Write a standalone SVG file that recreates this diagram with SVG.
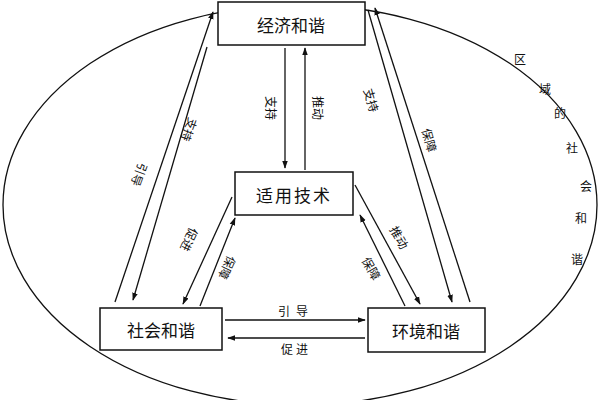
<svg xmlns="http://www.w3.org/2000/svg" width="600" height="400" viewBox="0 0 600 400">
<style>
.b{fill:#fff;stroke:#111;stroke-width:1.5}
.t{font-family:"Noto Sans CJK SC",sans-serif;font-size:17px;fill:#111;text-anchor:middle;dominant-baseline:central}
.s{font-family:"Noto Sans CJK SC",sans-serif;font-size:12px;fill:#111;text-anchor:middle;dominant-baseline:central}
.l{stroke:#111;stroke-width:1.3;fill:none;marker-end:url(#a)}
</style>
<defs><marker id="a" viewBox="0 0 10 10" refX="9" refY="5" markerWidth="8" markerHeight="8" orient="auto" markerUnits="userSpaceOnUse"><path d="M0,1.5L10,5L0,8.5z" fill="#111"/></marker></defs>
<ellipse cx="300" cy="205" rx="297" ry="200" fill="none" stroke="#111" stroke-width="1.3"/>
<g id="connectors">
<path class="l" d="M115,302L213,12"/>
<path class="l" d="M207,47L133,300"/>
<path class="l" d="M285,48L285,168"/>
<path class="l" d="M305,170L305,48"/>
<path class="l" d="M232,197L183,304"/>
<path class="l" d="M200,306L235,218"/>
<path class="l" d="M355,185L420,304"/>
<path class="l" d="M405,306L360,215"/>
<path class="l" d="M368,10L452,302"/>
<path class="l" d="M470,302L375,8"/>
<path class="l" d="M225,320L365,320"/>
<path class="l" d="M365,338L228,338"/>
<text class="s" transform="translate(140,175) rotate(110)">引导</text>
<text class="s" transform="translate(190,130) rotate(110)">支持</text>
<text class="s" transform="translate(271,108) rotate(90)">支持</text>
<text class="s" transform="translate(318,108) rotate(90)">推动</text>
<text class="s" transform="translate(190,240) rotate(115)">促进</text>
<text class="s" transform="translate(228,268) rotate(115)">保障</text>
<text class="s" transform="translate(400,237) rotate(61)">推动</text>
<text class="s" transform="translate(372,268) rotate(61)">保障</text>
<text class="s" transform="translate(372,100) rotate(74)">支持</text>
<text class="s" transform="translate(430,140) rotate(74)">保障</text>
<text class="s" x="296" y="310" letter-spacing="6">引导</text>
<text class="s" x="296" y="348" letter-spacing="3">促进</text>
</g>
<g id="n1"><rect class="b" x="218" y="2" width="147" height="43"/><text class="t" x="291" y="24">经济和谐</text></g>
<g id="n2"><rect class="b" x="235" y="172" width="118" height="43"/><text class="t" x="294" y="194" letter-spacing="2">适用技术</text></g>
<g id="n3"><rect class="b" x="100" y="308" width="122" height="42"/><text class="t" x="161" y="329">社会和谐</text></g>
<g id="n4"><rect class="b" x="368" y="308" width="117" height="44"/><text class="t" x="426" y="330">环境和谐</text></g>
<g class="s"><text class="s" x="520" y="58">区</text><text class="s" x="545" y="88">域</text><text class="s" x="560" y="112">的</text><text class="s" x="572" y="147">社</text><text class="s" x="586" y="185">会</text><text class="s" x="581" y="217">和</text><text class="s" x="577" y="258">谐</text></g>
</svg>
